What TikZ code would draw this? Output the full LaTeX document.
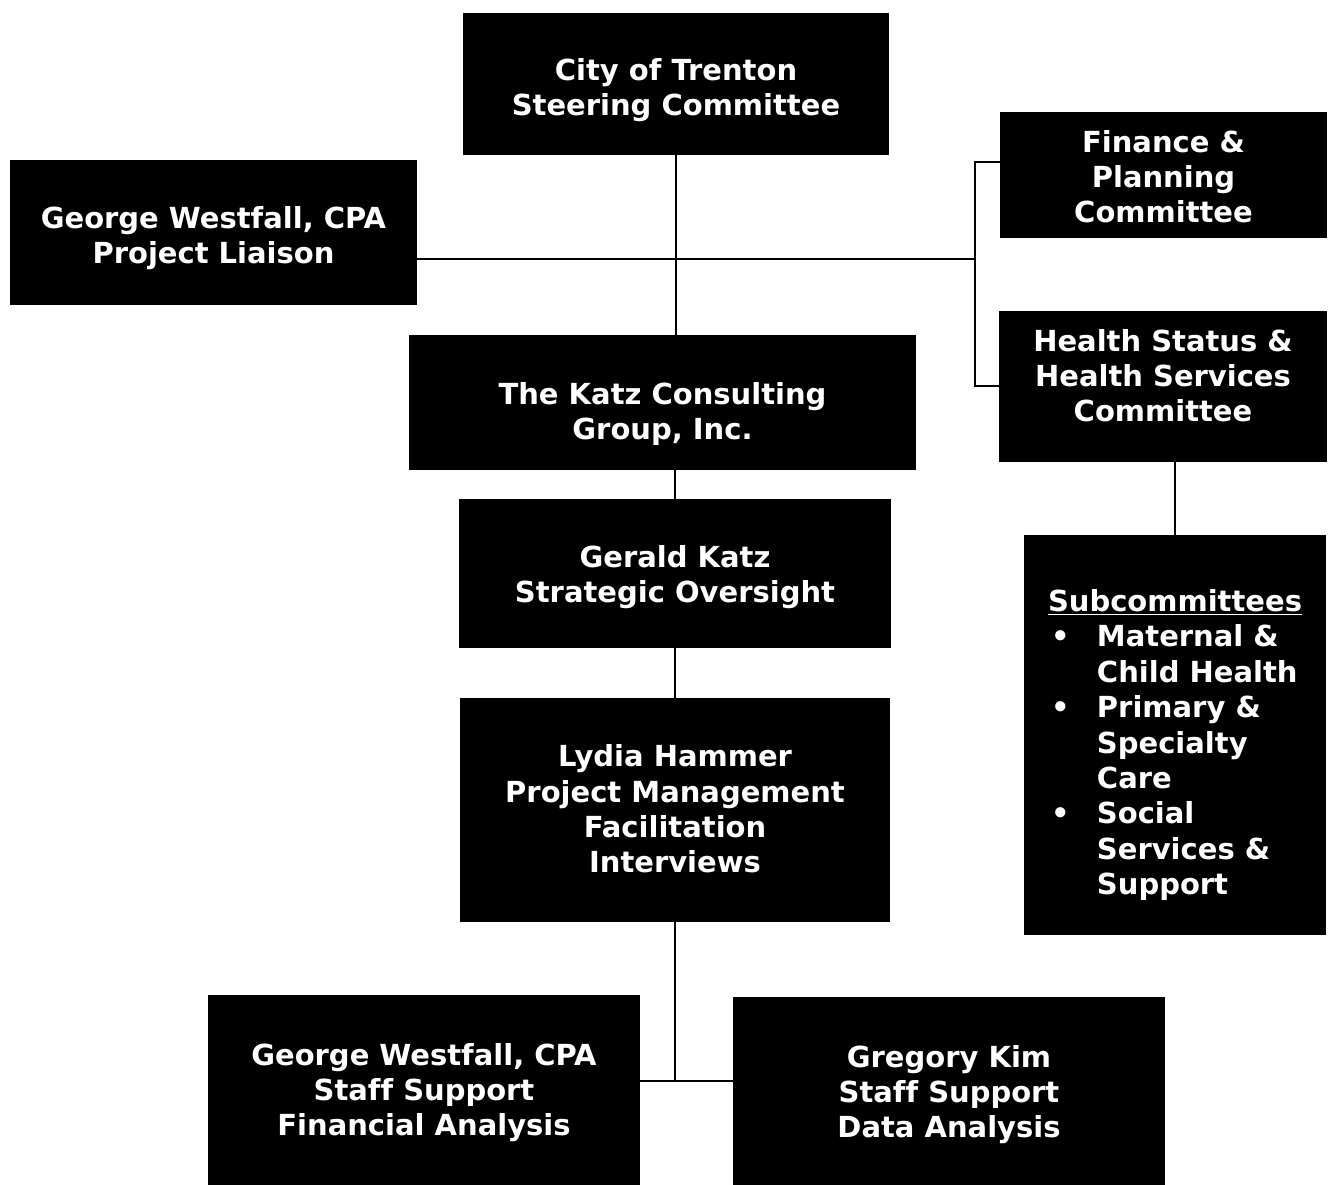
\documentclass[tikz,border=0pt]{standalone}
\usepackage{fontspec}
\setmainfont{DejaVu Sans}[Ligatures=NoCommon]
\usetikzlibrary{positioning}

\newcommand{\subbul}{\makebox[0.98cm][l]{\hspace{0.06cm}\textbullet}}
\newcommand{\subind}{\hspace*{0.98cm}}

\tikzset{
  org/.style={rectangle, fill=black, text=white, align=center, inner sep=0pt,
    font=\bfseries\fontsize{16.5}{20.2}\selectfont},
  txt/.style={text height=#1, text depth=0pt},
  link/.style={draw=black, line width=1.2pt}
}

\begin{document}
\begin{tikzpicture}[x=0.02cm, y=-0.02cm]
	   \fill[white] (0,0) rectangle (1332,1182);
	   \node[org, txt=12.8mm, minimum width=8.54cm, minimum height=2.84cm] (steer) at (676,84) {City of Trenton\\Steering Committee};
	   \node[org, txt=12.6mm, minimum width=8.14cm, minimum height=2.90cm] (liaison) at (213.5,232.5) {George Westfall, CPA\\Project Liaison};
	   \node[org, txt=19.2mm, minimum width=6.54cm, minimum height=2.52cm] (finance) at (1163.5,175) {Finance \&\\Planning\\Committee};
	   \node[org, txt=14.2mm, minimum width=6.56cm, minimum height=3.02cm] (health) at (1163,386.5) {Health Status \&\\Health Services\\Committee};
	   \node[org, txt=15mm, minimum width=10.14cm, minimum height=2.70cm] (katz) at (662.5,402.5) {The Katz Consulting\\Group, Inc.};
	   \node[org, txt=11.8mm, minimum width=8.64cm, minimum height=2.98cm] (gerald) at (675,573.5) {Gerald Katz\\Strategic Oversight};
	   \node[org, txt=25.2mm, minimum width=8.62cm, minimum height=4.48cm] (lydia) at (675,810) {Lydia Hammer\\Project Management\\Facilitation\\Interviews};
	   \node[org, txt=64mm, align=left, minimum width=6.06cm, minimum height=8.0cm] (subcom) at (1175,735) {\underline{Subcommittees}\\
	      \subbul Maternal \&\\ \subind Child Health\\
	      \subbul Primary \&\\ \subind Specialty\\ \subind Care\\
	      \subbul Social\\ \subind Services \&\\ \subind Support};
	   \node[org, txt=18.4mm, minimum width=8.64cm, minimum height=3.80cm] (gw) at (424,1090) {George Westfall, CPA\\Staff Support\\Financial Analysis};
	   \node[org, txt=18.8mm, minimum width=8.64cm, minimum height=3.76cm] (kim) at (949,1091) {Gregory Kim\\Staff Support\\Data Analysis};
	   \coordinate (hub) at (975,259);
	   \coordinate (ftop) at (975,162);
	   \coordinate (hbot) at (975,386);
	   \coordinate (fork) at (675,1081);
	    \draw[link] (steer.south) -- (steer.south |- katz.north);
	    \draw[link] (liaison.east |- hub) -- (hub);
	    \draw[link] (finance.west |- ftop) -- (ftop) -- (hbot) -- (health.west |- hbot);
	    \draw[link] (health.south -| subcom.north) -- (subcom.north);
	    \draw[link] (katz.south -| gerald.north) -- (gerald.north);
	    \draw[link] (gerald) -- (lydia);
	    \draw[link] (lydia.south) -- (fork);
	    \draw[link] (gw.east |- fork) -- (kim.west |- fork);
	\end{tikzpicture}
\end{document}
